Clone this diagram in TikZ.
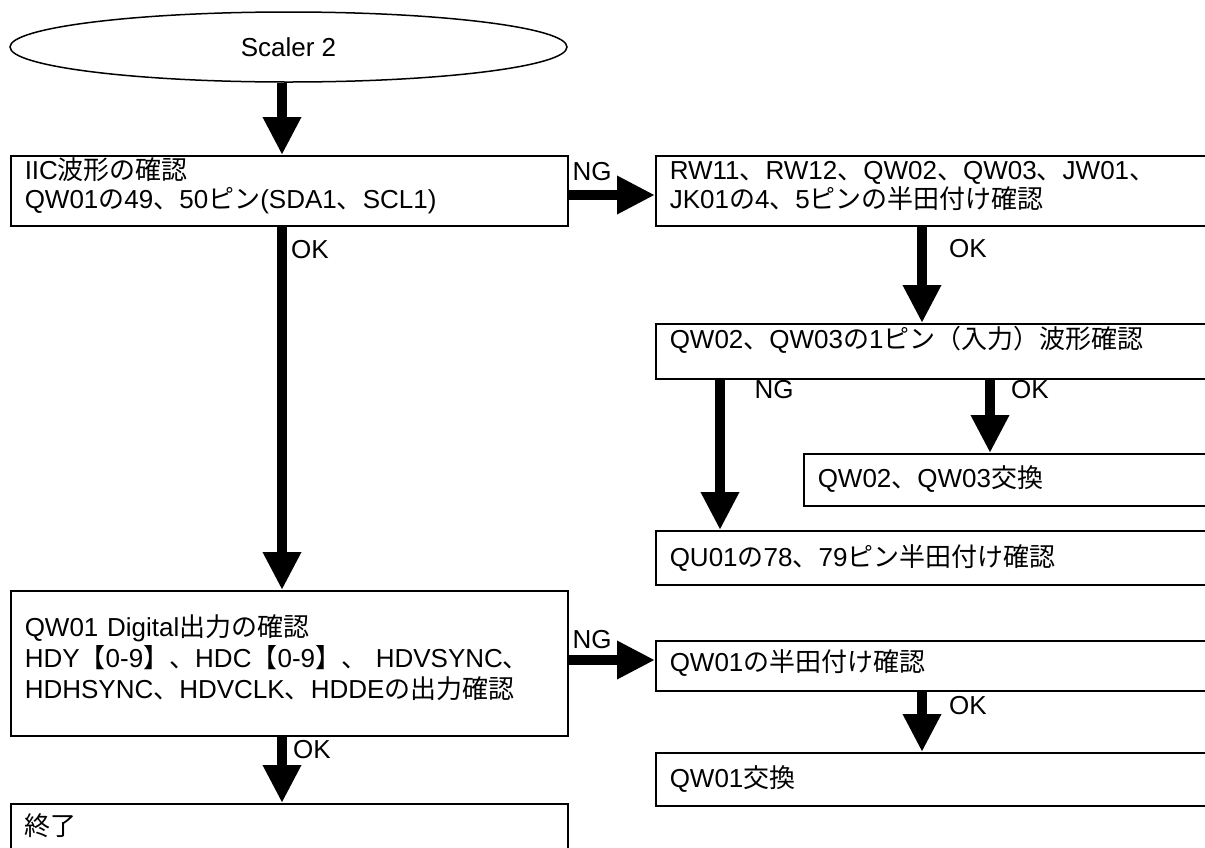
\documentclass[tikz,border=0pt]{standalone}
\usepackage{fontspec}
\setmainfont{Liberation Sans}
\newfontfamily\jpfont{Noto Sans CJK JP}
\newcommand\J[1]{{\jpfont #1}}
\usetikzlibrary{arrows.meta,shapes.geometric}
\tikzset{
  every node/.style={font=\fontsize{26}{29}\selectfont},
  boxnode/.style={draw, line width=1.5pt, anchor=north west, align=left, inner xsep=14pt, inner ysep=0pt},
  flow/.style={line width=10pt, -{Triangle[length=38pt,width=36pt]}},
  lbl/.style={inner sep=0pt, font=\fontsize{26}{29}\selectfont}
}
\begin{document}
\begin{tikzpicture}[x=1pt,y=-1pt]
\useasboundingbox (0,0) rectangle (1205,847);
\clip (0,0) rectangle (1205,847);
\node[draw, line width=1.5pt, ellipse, minimum width=557pt, minimum height=70pt, inner sep=0pt] (start) at (288.5,47) {Scaler 2};
\node[boxnode, text width=529pt, text height=24pt, text depth=46pt] (A) at (10,155) {IIC\J{波形の確認}\\QW01\J{の}49\J{、}50\J{ピン}(SDA1\J{、}SCL1)};
\node[boxnode, text width=600pt, text height=24pt, text depth=46pt] (B) at (655,155) {RW11\J{、}RW12\J{、}QW02\J{、}QW03\J{、}JW01\J{、}\\JK01\J{の}4\J{、}5\J{ピンの半田付け確認}};
\node[boxnode, text width=600pt, text height=25pt, text depth=30pt] (C) at (655,323) {QW02\J{、}QW03\J{の}1\J{ピン（入力）波形確認}};
\node[boxnode, text width=500pt, text height=34pt, text depth=18pt] (D) at (803,453) {QW02\J{、}QW03\J{交換}};
\node[boxnode, text width=600pt, text height=36pt, text depth=18pt] (E) at (655,530) {QU01\J{の}78\J{、}79\J{ピン半田付け確認}};
\node[boxnode, text width=529pt, text height=46pt, text depth=99pt, font=\fontsize{26}{31}\selectfont] (F) at (10,590) {QW01 Digital\J{出力の確認}\\HDY\J{【}0-9\J{】、}HDC\J{【}0-9\J{】、} HDVSYNC\J{、}\\HDHSYNC\J{、}HDVCLK\J{、}HDDE\J{の出力確認}};
\node[boxnode, text width=600pt, text height=31pt, text depth=19pt] (H) at (655,640) {QW01\J{の半田付け確認}};
\node[boxnode, text width=600pt, text height=35pt, text depth=18pt] (I) at (655,752) {QW01\J{交換}};
\node[boxnode, text width=529pt, text height=32pt, text depth=30pt] (G) at (10,803) {\J{終了}};
% connectors
\draw[flow] ([xshift=-6.5pt]start.south) -- ([xshift=-6.5pt]start.south |- A.north);
\draw[flow] (A.east |- 0,195) -- (B.west |- 0,195);
\draw[flow] ([xshift=267pt]B.south west) -- ([xshift=267pt]B.south west |- C.north);
\draw[flow] ([xshift=335pt]C.south west) -- ([xshift=335pt]C.south west |- D.north);
\draw[flow] ([xshift=65pt]C.south west) -- ([xshift=65pt]C.south west |- E.north);
\draw[flow] ([xshift=272pt]A.south west) -- ([xshift=272pt]A.south west |- F.north);
\draw[flow] (F.east |- 0,660) -- (H.west |- 0,660);
\draw[flow] ([xshift=267pt]H.south west) -- ([xshift=267pt]H.south west |- I.north);
\draw[flow] ([xshift=272pt]F.south west) -- ([xshift=272pt]F.south west |- G.north);
% labels
\node[lbl] (l1) at (592,172) {NG};
\node[lbl] (l2) at (968,249) {OK};
\node[lbl] (l3) at (774,390) {NG};
\node[lbl] (l4) at (1030,390) {OK};
\node[lbl] (l5) at (310,250) {OK};
\node[lbl] (l6) at (592,640) {NG};
\node[lbl] (l7) at (968,706) {OK};
\node[lbl] (l8) at (312,750) {OK};
\end{tikzpicture}
\end{document}
